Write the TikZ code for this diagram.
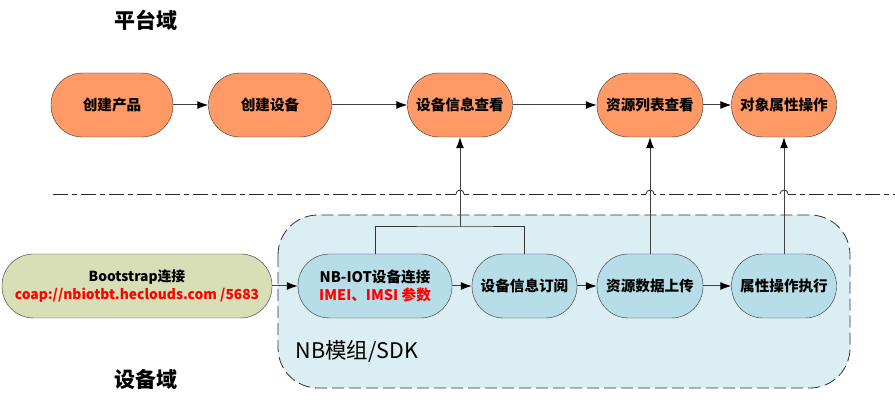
\documentclass[tikz,border=0pt]{standalone}
\usepackage{fontspec}
\newfontfamily\cjk{Noto Sans CJK SC}
\usetikzlibrary{arrows.meta}
\definecolor{platorange}{RGB}{255,153,102}
\definecolor{devblue}{RGB}{183,221,232}
\definecolor{sdkblue}{RGB}{219,238,244}
\definecolor{bootgreen}{RGB}{216,222,182}
\tikzset{
  stage/.style={draw=black!80,rounded corners=31.5pt,minimum height=64pt,inner sep=0pt,
    font=\cjk\bfseries\fontsize{14.6}{16}\selectfont},
  plat/.style={stage,fill=platorange},
  dev/.style={stage,fill=devblue},
  flow/.style={draw=black!75,line width=1pt,-{Latex[length=11pt,width=8pt,black]}},
  areatitle/.style={font=\cjk\bfseries\fontsize{21}{23}\selectfont}
}

\begin{document}
\begin{tikzpicture}[x=1pt,y=-1pt]
\useasboundingbox (0,0) rectangle (895,403);

% module area
\draw[dash pattern=on 12pt off 5pt,draw=black!80,fill=sdkblue,rounded corners=40pt,line width=0.8pt]
  (278,215) rectangle (850,388);
\node (sdk) at (357,351) [font=\cjk\fontsize{21.5}{23}\selectfont] {NB模组/SDK};

% separator with hops
\draw[draw=black!85,line width=0.8pt,dash pattern=on 15pt off 4pt on 5pt off 4pt] (53,194) -- (895,194);
\foreach \hx in {460,650,784} {
  \fill[white] (\hx-4,191) rectangle (\hx+4,197);
  \draw[black!85,line width=0.8pt] (\hx-4,194) arc[start angle=180,end angle=360,radius=4];
}

\node (title1) at (146,20) [areatitle] {平台域};
\node (title2) at (146,379) [areatitle] {设备域};

% platform side
\node (t1) at (112,105) [plat,minimum width=122pt] {创建产品};
\node (t2) at (270,105) [plat,minimum width=123pt] {创建设备};
\node (t3) at (460,105) [plat,minimum width=105pt] {设备信息查看};
\node (t4) at (650,105) [plat,minimum width=106pt] {资源列表查看};
\node (t5) at (784,105) [plat,minimum width=105pt] {对象属性操作};

% device side
\node (b0) at (137,286) [stage,fill=bootgreen,minimum width=270pt,align=center,
  font=\cjk\bfseries\fontsize{13.8}{18}\selectfont]
  {Bootstrap连接\\ \textcolor{red}{coap://nbiotbt.heclouds.com /5683}};
\node (b1) at (375,286) [dev,minimum width=154pt,align=center,
  font=\cjk\bfseries\fontsize{14.6}{18}\selectfont]
  {NB-IOT设备连接\\ \textcolor{red}{IMEI、IMSI 参数}};
\node (b2) at (524.5,286) [dev,minimum width=105pt] {设备信息订阅};
\node (b3) at (650,286) [dev,minimum width=106pt] {资源数据上传};
\node (b4) at (784,286) [dev,minimum width=105pt] {属性操作执行};

\coordinate (j1) at (460,227);

\draw[flow] (t1) -- (t2);
\draw[flow] (t2) -- (t3);
\draw[flow] (t3) -- (t4);
\draw[flow] (t4) -- (t5);

\draw[flow] (b0) -- (b1);
\draw[flow] (b1) -- (b2);
\draw[flow] (b2) -- (b3);
\draw[flow] (b3) -- (b4);

\draw[draw=black!80,line width=1pt] (b1.north) |- (j1) -| (b2.north);
\draw[flow] (j1) -- (t3.south);
\draw[flow] (b3.north) -- (t4.south);
\draw[flow] (b4.north) -- (t5.south);
\end{tikzpicture}
\end{document}
